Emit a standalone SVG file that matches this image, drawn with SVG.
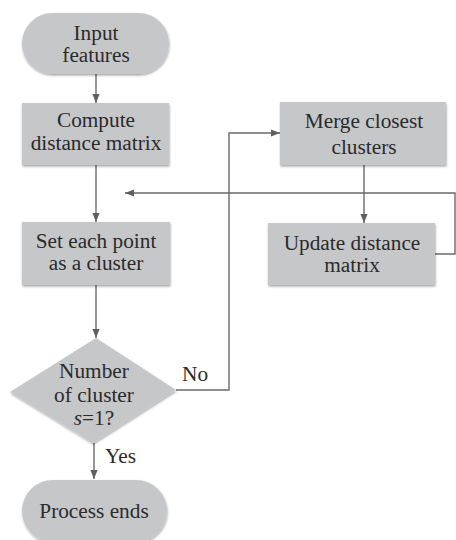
<svg xmlns="http://www.w3.org/2000/svg" width="456" height="540" viewBox="0 0 456 540">
<defs>
<filter id="sh" x="-10%" y="-10%" width="120%" height="130%">
<feDropShadow dx="0.5" dy="1.5" stdDeviation="1.2" flood-color="#000" flood-opacity="0.35"/>
</filter>
<marker id="ah" viewBox="0 0 10 10" refX="10" refY="5" markerWidth="9" markerHeight="9" markerUnits="userSpaceOnUse" orient="auto">
<path d="M0,1 L10,5 L0,9 z" fill="#5f5f5f"/>
</marker>
<style>
.n{fill:#c6c7c9;filter:url(#sh)}
.t{font-family:"Liberation Serif","Times New Roman",serif;font-size:21.3px;fill:#2b2b2b;text-anchor:middle}
.l{font-family:"Liberation Serif","Times New Roman",serif;font-size:21.3px;fill:#2b2b2b}
.c{fill:none;stroke:#6a6a6a;stroke-width:1.4}
</style>
</defs>
<rect width="456" height="540" fill="#fff"/>
<g id="connectors">
<path class="c" d="M96,74 V103" marker-end="url(#ah)"/>
<path class="c" d="M96,165 V222" marker-end="url(#ah)"/>
<path class="c" d="M96,285 V338" marker-end="url(#ah)"/>
<path class="c" d="M94,443 V479" marker-end="url(#ah)"/>
<path class="c" d="M176,390 H229 V133 H280" marker-end="url(#ah)"/>
<path class="c" d="M364,165 V223" marker-end="url(#ah)"/>
<path class="c" d="M435,254 H455 V193 H125" marker-end="url(#ah)"/>
<text class="l" x="182" y="381">No</text>
<text class="l" x="105" y="463">Yes</text>
</g>
<g id="input">
<rect class="n" x="22" y="13" width="147" height="61" rx="30.5"/>
<text class="t" x="96" y="40">Input</text>
<text class="t" x="96" y="62">features</text>
</g>
<g id="compute">
<rect class="n" x="22" y="103" width="147" height="62"/>
<text class="t" x="96" y="127">Compute</text>
<text class="t" x="96" y="150">distance matrix</text>
</g>
<g id="setpoint">
<rect class="n" x="22" y="222" width="148" height="63"/>
<text class="t" x="96" y="248">Set each point</text>
<text class="t" x="96" y="270">as a cluster</text>
</g>
<g id="decision">
<polygon class="n" points="96,338 176,390 93,443 10,392"/>
<text class="t" x="94" y="378">Number</text>
<text class="t" x="94" y="402">of cluster</text>
<text class="t" x="94" y="425"><tspan font-style="italic">s</tspan>=1?</text>
</g>
<g id="merge">
<rect class="n" x="280" y="102" width="166" height="63"/>
<text class="t" x="364" y="128">Merge closest</text>
<text class="t" x="364" y="154">clusters</text>
</g>
<g id="update">
<rect class="n" x="268" y="223" width="167" height="62"/>
<text class="t" x="352" y="250">Update distance</text>
<text class="t" x="352" y="272">matrix</text>
</g>
<g id="end">
<rect class="n" x="22" y="480" width="145" height="62" rx="31"/>
<text class="t" x="94" y="518">Process ends</text>
</g>
</svg>
